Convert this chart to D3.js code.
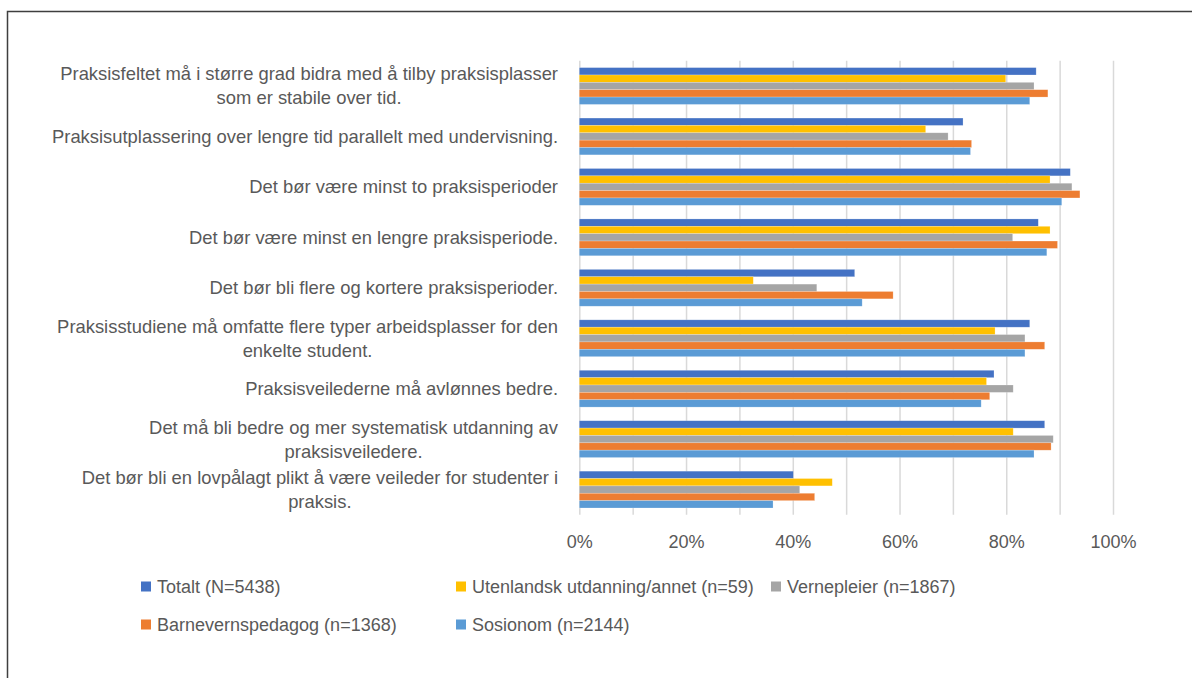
<!DOCTYPE html>
<html>
<head>
<meta charset="utf-8">
<script src="https://cdn.jsdelivr.net/npm/d3@7"></script>
<style>
  body { margin: 0; background: #fff; }
  svg { display: block; font-family: "Liberation Sans", Arial, sans-serif; }
</style>
</head>
<body>
<div id="chart"></div>
<script>
// categories (label lines as shown in the reference)
const categories = [
  ["Praksisfeltet må i større grad bidra med å tilby praksisplasser", "som er stabile over tid."],
  ["Praksisutplassering over lengre tid parallelt med undervisning."],
  ["Det bør være minst to praksisperioder"],
  ["Det bør være minst en lengre praksisperiode."],
  ["Det bør bli flere og kortere praksisperioder."],
  ["Praksisstudiene må omfatte flere typer arbeidsplasser for den", "enkelte student."],
  ["Praksisveilederne må avlønnes bedre."],
  ["Det må bli bedre og mer systematisk utdanning av", "praksisveiledere."],
  ["Det bør bli en lovpålagt plikt å være veileder for studenter i", "praksis."]
];

const seriesNames = [
  "Totalt (N=5438)",
  "Utenlandsk utdanning/annet (n=59)",
  "Vernepleier (n=1867)",
  "Barnevernspedagog (n=1368)",
  "Sosionom (n=2144)"
];

// share agreeing, per category
const totalt      = [0.856, 0.719, 0.920, 0.860, 0.516, 0.844, 0.777, 0.872, 0.401];
const utenlandsk  = [0.799, 0.649, 0.882, 0.882, 0.326, 0.779, 0.763, 0.813, 0.474];
const vernepleier = [0.852, 0.691, 0.923, 0.812, 0.445, 0.835, 0.813, 0.888, 0.413];
const barnevern   = [0.878, 0.735, 0.938, 0.896, 0.588, 0.872, 0.769, 0.884, 0.441];
const sosionom    = [0.844, 0.733, 0.904, 0.876, 0.530, 0.835, 0.753, 0.852, 0.363];

const seriesValues = [totalt, utenlandsk, vernepleier, barnevern, sosionom];
const colors = ["#4472C4", "#FFC000", "#A5A5A5", "#ED7D31", "#5B9BD5"];

const xTicks = [0, 0.2, 0.4, 0.6, 0.8, 1.0];
const gridTicks = d3.range(0, 11).map(i => i / 10);

const W = 1192, H = 678;
const plot = { left: 579.3, right: 1113, top: 60.8, bottom: 514.8 };
const labelRight = 558;

const svg = d3.select("#chart").append("svg")
  .attr("width", W)
  .attr("height", H);

// frame
svg.append("rect")
  .attr("x", 7.5).attr("y", 11.5)
  .attr("width", W).attr("height", H)
  .attr("fill", "none")
  .attr("stroke", "#3f3f3f")
  .attr("stroke-width", 1.5);

const x = d3.scaleLinear().domain([0, 1]).range([plot.left, plot.right]);
const y0 = d3.scaleBand()
  .domain(d3.range(categories.length))
  .range([plot.top, plot.bottom])
  .padding(0);
const groupH = y0.bandwidth() * 0.73;
const y1 = d3.scaleBand()
  .domain(d3.range(seriesNames.length))
  .range([(y0.bandwidth() - groupH) / 2, (y0.bandwidth() + groupH) / 2]);

// gridlines
svg.append("g")
  .attr("transform", `translate(0, ${plot.bottom})`)
  .call(d3.axisBottom(x).tickValues(gridTicks).tickSize(-(plot.bottom - plot.top)).tickFormat(""))
  .call(g => g.select(".domain").remove())
  .call(g => g.selectAll(".tick line").attr("stroke", "#d9d9d9").attr("stroke-width", 1.5));

// x tick labels
svg.append("g")
  .attr("transform", `translate(0, ${plot.bottom})`)
  .call(d3.axisBottom(x).tickValues(xTicks).tickSize(0).tickPadding(20).tickFormat(d3.format(".0%")))
  .call(g => g.select(".domain").remove())
  .call(g => g.selectAll("text")
    .attr("fill", "#595959")
    .style("font-size", "18px")
    .style("font-family", "'Liberation Sans', Arial, sans-serif"));

// bars
const groups = svg.append("g").selectAll("g")
  .data(categories)
  .join("g")
  .attr("transform", (d, i) => `translate(0, ${y0(i)})`);

groups.selectAll("rect")
  .data((d, i) => seriesValues.map((vals, s) => ({ s, v: vals[i] })))
  .join("rect")
  .attr("x", x(0))
  .attr("y", d => y1(d.s))
  .attr("width", d => x(d.v) - x(0))
  .attr("height", y1.bandwidth())
  .attr("fill", d => colors[d.s])
  .attr("stroke", "#ffffff")
  .attr("stroke-opacity", 0.35)
  .attr("stroke-width", 0.6);

// category labels
const lineH = 24;
categories.forEach((lines, i) => {
  const cy = y0(i) + y0.bandwidth() / 2;
  const t = svg.append("text")
    .attr("fill", "#595959")
    .style("font-size", "18.4px")
    .attr("text-anchor", "middle");
  const spans = lines.map((ln, k) => t.append("tspan")
    .attr("y", cy + (k - (lines.length - 1) / 2) * lineH)
    .attr("dy", "0.35em")
    .text(ln));
  const maxW = d3.max(spans, s => s.node().getComputedTextLength());
  spans.forEach(s => s.attr("x", labelRight - maxW / 2));
});

// legend
const legendPos = [
  { x: 141, y: 586.5 },
  { x: 456, y: 586.5 },
  { x: 771, y: 586.5 },
  { x: 141, y: 624.5 },
  { x: 456, y: 624.5 }
];
const legend = svg.append("g").selectAll("g")
  .data(seriesNames)
  .join("g")
  .attr("transform", (d, i) => `translate(${legendPos[i].x}, ${legendPos[i].y})`);

legend.append("rect")
  .attr("x", 0).attr("y", -5)
  .attr("width", 10).attr("height", 10)
  .attr("fill", (d, i) => colors[i]);

legend.append("text")
  .attr("x", 16)
  .attr("dy", "0.35em")
  .attr("fill", "#595959")
  .style("font-size", "18px")
  .text(d => d);
</script>
</body>
</html>
